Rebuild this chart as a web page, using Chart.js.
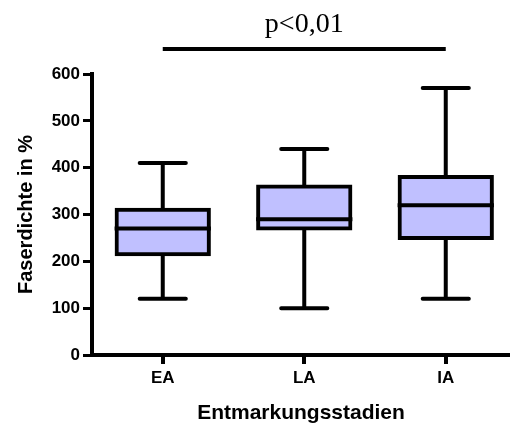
<!DOCTYPE html>
<html>
<head>
<meta charset="utf-8">
<script src="https://cdn.jsdelivr.net/npm/chart.js@4.4.1/dist/chart.umd.min.js"></script>
<style>
  html, body { margin: 0; padding: 0; background: #fff; overflow: hidden; }
  #wrap { width: 510px; height: 427px; }
</style>
</head>
<body>
<div id="wrap"><canvas id="boxChart" width="510" height="427"></canvas></div>
<script>
// Faserdichte je Entmarkungsstadium (Box-Whisker, Min bis Max)
const categories = ['EA', 'LA', 'IA'];
const whiskerMin = [120, 100, 120];
const quartile1 = [215, 270, 250];
const medians = [270, 290, 320];
const quartile3 = [310, 360, 380];
const whiskerMax = [410, 440, 570];
const yTicks = [0, 100, 200, 300, 400, 500, 600];
const pLabel = 'p<0,01';

const sansFont = '"Liberation Sans", Arial, sans-serif';
const serifFont = '"Liberation Serif", "Times New Roman", serif';

// Whiskers, medians and the significance bracket
const boxPlugin = {
    id: 'boxWhiskers',
    beforeDatasetsDraw(chart) {
        const { ctx, scales: { x, y } } = chart;
        const bars = chart.getDatasetMeta(0).data;
        ctx.save();
        ctx.strokeStyle = '#000';
        ctx.lineWidth = 4;
        ctx.lineCap = 'round';
        categories.forEach((c, i) => {
            const cx = x.getPixelForValue(i);
            const capHalf = bars[i].width * 0.25;
            const yMin = y.getPixelForValue(whiskerMin[i]);
            const yMax = y.getPixelForValue(whiskerMax[i]);
            ctx.beginPath();
            ctx.moveTo(cx, yMin);
            ctx.lineTo(cx, yMax);
            ctx.moveTo(cx - capHalf, yMin);
            ctx.lineTo(cx + capHalf, yMin);
            ctx.moveTo(cx - capHalf, yMax);
            ctx.lineTo(cx + capHalf, yMax);
            ctx.stroke();
        });
        ctx.restore();
    },
    afterDatasetsDraw(chart) {
        const { ctx, scales: { x, y } } = chart;
        const bars = chart.getDatasetMeta(0).data;
        ctx.save();
        ctx.strokeStyle = '#000';
        ctx.lineWidth = 4;
        categories.forEach((c, i) => {
            const cx = x.getPixelForValue(i);
            const half = bars[i].width / 2 + 2;
            const ym = y.getPixelForValue(medians[i]);
            ctx.beginPath();
            ctx.moveTo(cx - half, ym);
            ctx.lineTo(cx + half, ym);
            ctx.stroke();
        });

        // bracket from first to last group
        const x1 = x.getPixelForValue(0);
        const x2 = x.getPixelForValue(categories.length - 1);
        const by = chart.chartArea.top - 25;
        ctx.beginPath();
        ctx.moveTo(x1, by);
        ctx.lineTo(x2, by);
        ctx.stroke();
        ctx.fillStyle = '#000';
        ctx.font = '28px ' + serifFont;
        ctx.textAlign = 'center';
        ctx.textBaseline = 'alphabetic';
        ctx.fillText(pLabel, (x1 + x2) / 2, by - 17);
        ctx.restore();
    }
};

new Chart(document.getElementById('boxChart'), {
    type: 'bar',
    data: {
        datasets: [{
            data: categories.map((c, i) => ({ x: i, y: [quartile1[i], quartile3[i]] })),
            backgroundColor: '#c0c0ff',
            borderColor: '#000',
            borderWidth: 4,
            borderSkipped: false,
            inflateAmount: 2,
            barPercentage: 0.652,
            categoryPercentage: 1
        }]
    },
    options: {
        responsive: false,
        animation: false,
        devicePixelRatio: 1,
        layout: {
            padding: { top: 74, left: 0, right: 0, bottom: 0 }
        },
        plugins: {
            legend: { display: false },
            tooltip: { enabled: false }
        },
        scales: {
            x: {
                type: 'linear',
                min: -0.5,
                max: 2.454,
                offset: false,
                afterBuildTicks: s => { s.ticks = categories.map((c, i) => ({ value: i })); },
                afterFit: s => { s.height = 72; },
                ticks: {
                    callback: v => categories[v],
                    color: '#000',
                    font: { family: sansFont, size: 17, weight: 'bold' },
                    padding: 4,
                    autoSkip: false,
                    maxRotation: 0
                },
                grid: {
                    offset: false,
                    drawOnChartArea: false,
                    drawTicks: true,
                    tickLength: 9,
                    lineWidth: 4,
                    color: '#000'
                },
                border: { display: true, width: 4, color: '#000' },
                title: {
                    display: true,
                    text: 'Entmarkungsstadien',
                    color: '#000',
                    font: { family: sansFont, size: 21, weight: 'bold' },
                    padding: { top: 0, bottom: 1 }
                }
            },
            y: {
                min: 0,
                max: 600,
                afterBuildTicks: s => { s.ticks = yTicks.map(v => ({ value: v })); },
                afterFit: s => { s.width = 92; },
                ticks: {
                    color: '#000',
                    font: { family: sansFont, size: 17, weight: 'bold' },
                    padding: 3
                },
                grid: {
                    drawOnChartArea: false,
                    drawTicks: true,
                    tickLength: 9,
                    lineWidth: 3,
                    color: '#000'
                },
                border: { display: true, width: 4, color: '#000' },
                title: {
                    display: true,
                    text: 'Faserdichte in %',
                    color: '#000',
                    font: { family: sansFont, size: 20, weight: 'bold' },
                    padding: { top: 14, bottom: 0 }
                }
            }
        }
    },
    plugins: [boxPlugin]
});
</script>
</body>
</html>
